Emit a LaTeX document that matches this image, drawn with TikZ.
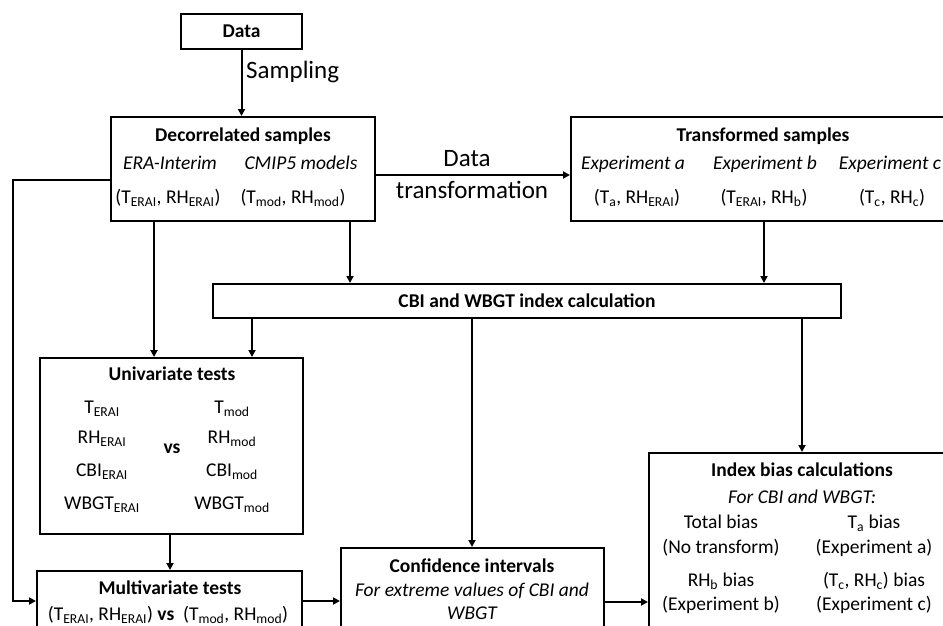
\documentclass[tikz,border=0pt]{standalone}
\usepackage{fontspec}
\setmainfont{Carlito}
\usetikzlibrary{arrows.meta}
\newcommand{\sbs}[1]{\textsubscript{#1}}
\begin{document}
\begin{tikzpicture}[x=1pt,y=-1pt,
  box/.style={draw,line width=2pt,inner sep=0pt},
  txt/.style={font=\fontsize{19.5}{23}\selectfont,inner sep=0pt,anchor=base},
  btxt/.style={txt,font=\fontsize{19.5}{23}\selectfont\bfseries},
  itxt/.style={txt,font=\fontsize{19.5}{23}\selectfont\itshape},
  big/.style={font=\fontsize{25}{30}\selectfont,inner sep=0pt},
  arr/.style={line width=2pt,-{Triangle[length=7pt,width=7pt]}}]
\useasboundingbox (0,0) rectangle (943,626);
\clip (0,0) rectangle (943,626);

% boxes
\node[box,minimum width=121pt,minimum height=35pt] (data) at (241.5,31.5) {};
\node[box,minimum width=264pt,minimum height=104pt] (dec) at (243,169) {};
\node[box,minimum width=404pt,minimum height=104pt] (trans) at (773,169) {};
\node[box,minimum width=628pt,minimum height=34pt] (cbi) at (527,301) {};
\node[box,minimum width=263pt,minimum height=176pt] (uni) at (171.5,446) {};
\node[box,minimum width=265pt,minimum height=89pt] (multi) at (169.5,615.5) {};
\node[box,minimum width=263pt,minimum height=112pt] (conf) at (472.5,604) {};
\node[box,minimum width=341pt,minimum height=207pt] (idx) at (819.5,556.5) {};

% helper coordinates
\coordinate (x154) at (154,0);
\coordinate (x350) at (350,0);
\coordinate (x764) at (764,0);
\coordinate (x252) at (252,0);
\coordinate (x472) at (472,0);
\coordinate (x802) at (802,0);
\coordinate (x170) at (170,0);
\coordinate (y175) at (0,175);
\coordinate (y180) at (0,180);
\coordinate (y601) at (0,601);
\coordinate (y602) at (0,602);
\coordinate (lx) at (13,400);

% connectors
\draw[arr] (data.south) -- (data.south |- dec.north);
\node[big,anchor=west] (samp) at (246,72) {Sampling};
\draw[arr] (dec.east |- y175) -- (trans.west |- y175);
\node[big] (dt1) at (467,159) {Data};
\node[big] (dt2) at (472,190) {transformation};
\draw[arr] (dec.west |- y180) -| (lx) |- (multi.west |- y601);
\draw[arr] (dec.south -| x154) -- (uni.north -| x154);
\draw[arr] (dec.south -| x350) -- (cbi.north -| x350);
\draw[arr] (trans.south -| x764) -- (cbi.north -| x764);
\draw[arr] (cbi.south -| x252) -- (uni.north -| x252);
\draw[arr] (cbi.south -| x472) -- (conf.north -| x472);
\draw[arr] (cbi.south -| x802) -- (idx.north -| x802);
\draw[arr] (uni.south -| x170) -- (multi.north -| x170);
\draw[arr] (multi.east |- y601) -- (conf.west |- y601);
\draw[arr] (conf.east |- y602) -- (idx.west |- y602);

% texts
\node[btxt] (tdata) at (241.5,38) {Data};

\node[btxt] (td1) at (243,141) {Decorrelated samples};
\node[itxt] (td2) at (170,169) {ERA-Interim};
\node[itxt] (td3) at (301,169) {CMIP5 models};
\node[txt] (td4) at (168,203) {(T\sbs{ERAI}, RH\sbs{ERAI})};
\node[txt] (td5) at (293,203) {(T\sbs{mod}, RH\sbs{mod})};

\node[btxt] (tt1) at (763,141) {Transformed samples};
\node[itxt] (tt2) at (633,169) {Experiment a};
\node[itxt] (tt3) at (765,169) {Experiment b};
\node[itxt] (tt4) at (890,169) {Experiment c};
\node[txt] (tt5) at (637,203) {(T\sbs{a}, RH\sbs{ERAI})};
\node[txt] (tt6) at (764,203) {(T\sbs{ERAI}, RH\sbs{b})};
\node[txt] (tt7) at (892,203) {(T\sbs{c}, RH\sbs{c})};

\node[btxt] (tc1) at (527,307) {CBI and WBGT index calculation};

\node[btxt] (tu0) at (172,380) {Univariate tests};
\node[txt] (tu1) at (102,413) {T\sbs{ERAI}};
\node[txt] (tu2) at (102,443) {RH\sbs{ERAI}};
\node[txt] (tu3) at (102,476) {CBI\sbs{ERAI}};
\node[txt] (tu4) at (102,509) {WBGT\sbs{ERAI}};
\node[btxt] (tuvs) at (172,453) {vs};
\node[txt] (tu5) at (232,413) {T\sbs{mod}};
\node[txt] (tu6) at (232,443) {RH\sbs{mod}};
\node[txt] (tu7) at (232,476) {CBI\sbs{mod}};
\node[txt] (tu8) at (232,509) {WBGT\sbs{mod}};

\node[btxt] (tm1) at (170,594) {Multivariate tests};
\node[txt] (tm2) at (168,620) {(T\sbs{ERAI}, RH\sbs{ERAI})\ \textbf{vs}\ \ (T\sbs{mod}, RH\sbs{mod})};

\node[btxt] (tf1) at (472,572) {Confidence intervals};
\node[itxt] (tf2) at (472,596) {For extreme values of CBI and};
\node[itxt] (tf3) at (472,619) {WBGT};

\node[btxt] (ti1) at (802,476) {Index bias calculations};
\node[itxt] (ti2) at (802,503) {For CBI and WBGT:};
\node[txt] (ti3) at (721,528) {Total bias};
\node[txt] (ti4) at (721,553) {(No transform)};
\node[txt] (ti5) at (721,586) {RH\sbs{b} bias};
\node[txt] (ti6) at (721,610) {(Experiment b)};
\node[txt] (ti7) at (874,528) {T\sbs{a} bias};
\node[txt] (ti8) at (874,553) {(Experiment a)};
\node[txt] (ti9) at (874,586) {(T\sbs{c}, RH\sbs{c}) bias};
\node[txt] (ti10) at (874,610) {(Experiment c)};
\end{tikzpicture}
\end{document}
